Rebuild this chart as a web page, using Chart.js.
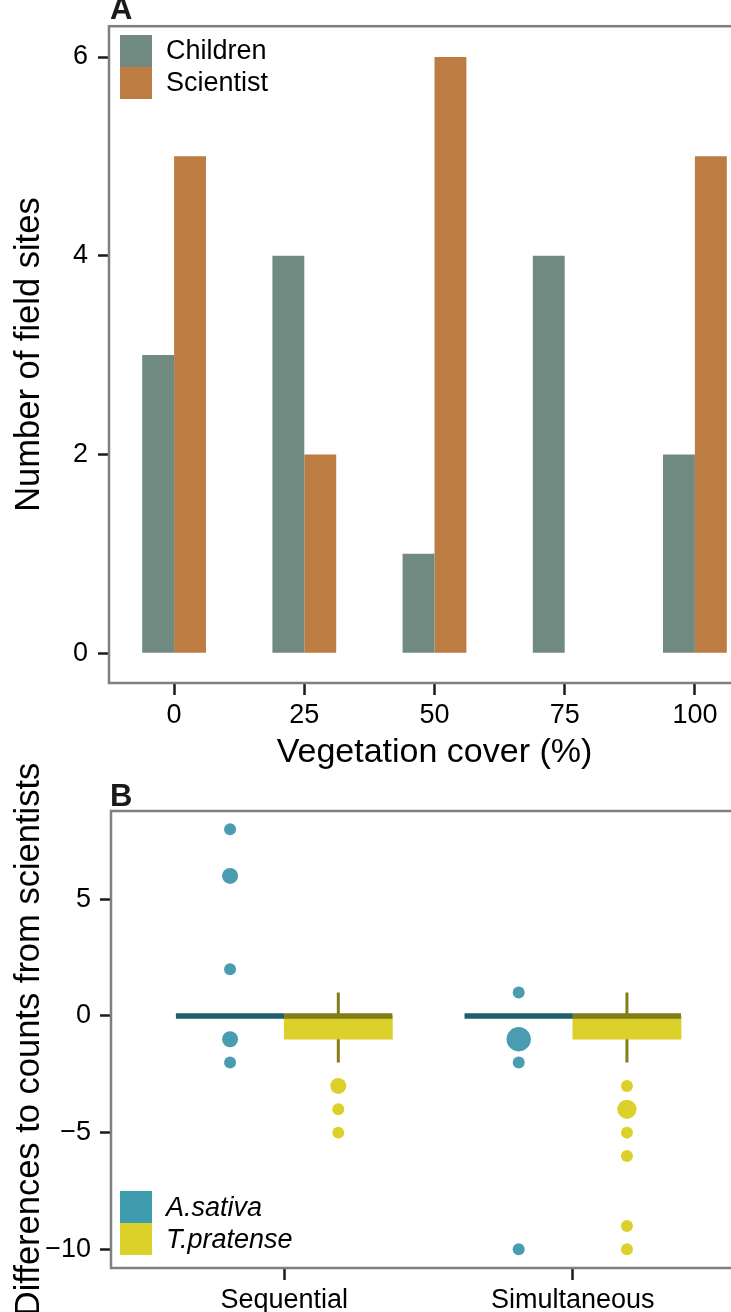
<!DOCTYPE html>
<html>
<head>
<meta charset="utf-8">
<script src="https://cdn.jsdelivr.net/npm/chart.js@4"></script>
<style>
  html, body { margin: 0; padding: 0; background: #fff; overflow: hidden; }
  body { width: 731px; height: 1312px; position: relative; }
  #panelA { position: absolute; left: 0; top: 0; }
  #panelB { position: absolute; left: 0; top: 740px; }
</style>
</head>
<body>
<canvas id="panelA" width="760" height="790"></canvas>
<canvas id="panelB" width="746" height="572"></canvas>
<script>
// ===== Panel A data =====
const coverLevels = ['0', '25', '50', '75', '100'];
const childrenSites = [3, 4, 1, 4, 2];
const scientistSites = [5, 2, 6, 0, 5];
const siteTicks = [0, 2, 4, 6];

// ===== Panel B data =====
const methods = ['Sequential', 'Simultaneous'];
const species = ['A.sativa', 'T.pratense'];
// box stats per method: lower whisker, lower hinge, median, upper hinge, upper whisker
const sativaBox = [[0, 0, 0, 0, 0], [0, 0, 0, 0, 0]];
const pratenseBox = [[-2, -1, 0, 0, 1], [-2, -1, 0, 0, 1]];
// outliers per method and how many sites share each value
const sativaOutliers = [[8, 6, 2, -1, -2], [1, -1, -2, -10]];
const sativaOutlierN = [[1, 2, 1, 2, 1], [1, 5, 1, 1]];
const pratenseOutliers = [[-3, -4, -5], [-3, -4, -5, -6, -9, -10]];
const pratenseOutlierN = [[2, 1, 1], [1, 3, 1, 1, 1, 1]];
const diffTicks = [-10, -5, 0, 5];

// ===== Styles =====
const FONT = "'Liberation Sans', Arial, Helvetica, sans-serif";
Chart.defaults.font.family = FONT;
Chart.defaults.color = '#000';
const frameColor = '#7f7f7f';
const tickColor = '#1a1a1a';
const colChildren = '#708a82';
const colScientist = '#bd7c41';
const sativaFill = '#4a9db0', sativaLine = '#1f5f6b', sativaKey = '#3e9aad';
const pratenseFill = '#dcd12b', pratenseLine = '#837c17';
const DODGE = 0.1875; // half of the dodge width 0.75 / 2 groups

const minus = (v) => v < 0 ? '\u2212' + Math.abs(v) : String(v);

// frame, panel letter and key squares
const panelDecor = {
    id: 'panelDecor',
    afterDraw(chart, args, opts) {
        const { ctx, chartArea: a } = chart;
        ctx.save();
        ctx.strokeStyle = frameColor;
        ctx.lineWidth = 2.5;
        ctx.strokeRect(a.left, a.top, a.right - a.left, a.bottom - a.top);

        ctx.fillStyle = '#1a1a1a';
        ctx.font = `bold 31px ${FONT}`;
        ctx.textBaseline = 'alphabetic';
        ctx.fillText(opts.letter, opts.letterX, opts.letterY);

        opts.keys.forEach((k, i) => {
            const y = opts.keyY + i * 32;
            ctx.fillStyle = k.color;
            ctx.fillRect(opts.keyX, y, 32, 32);
            ctx.fillStyle = '#000';
            ctx.font = `${k.italic ? 'italic ' : ''}27px ${FONT}`;
            ctx.textBaseline = 'middle';
            ctx.fillText(k.label, opts.keyX + 46, y + 17);
        });
        ctx.restore();
    }
};

const tickGrid = { drawOnChartArea: false, drawTicks: true, tickLength: 12, tickColor: tickColor, tickWidth: 2.5, offset: false };

// ===== Panel A =====
const chartA = new Chart(document.getElementById('panelA'), {
    type: 'bar',
    data: {
        labels: coverLevels,
        datasets: [
            { label: 'Children', data: childrenSites, backgroundColor: colChildren },
            { label: 'Scientist', data: scientistSites, backgroundColor: colScientist }
        ]
    },
    options: {
        responsive: false,
        animation: false,
        events: [],
        layout: { autoPadding: false, padding: { top: 25, left: 0, right: 0, bottom: 0 } },
        datasets: { bar: { categoryPercentage: 0.49, barPercentage: 1, borderWidth: 0 } },
        plugins: {
            legend: { display: false },
            tooltip: { enabled: false },
            panelDecor: {
                letter: 'A', letterX: 110, letterY: 19,
                keyX: 120, keyY: 35,
                keys: [
                    { label: 'Children', color: colChildren },
                    { label: 'Scientist', color: colScientist }
                ]
            }
        },
        scales: {
            x: {
                offset: true,
                grid: { ...tickGrid, tickLength: 12 },
                border: { display: false },
                ticks: { font: { size: 27 }, padding: 4, color: '#000' },
                title: { display: true, text: 'Vegetation cover (%)', font: { size: 34 }, padding: { top: 0, bottom: 17 }, color: '#000' },
                afterFit: (s) => { s.height = 107; }
            },
            y: {
                min: -0.3,
                max: 6.31,
                afterBuildTicks: (s) => { s.ticks = siteTicks.map(v => ({ value: v })); },
                grid: { ...tickGrid, tickLength: 11 },
                border: { display: false },
                ticks: { font: { size: 27 }, padding: 10, color: '#000' },
                title: { display: true, text: 'Number of field sites', font: { size: 34.5 }, padding: { top: 9, bottom: 0 }, color: '#000' },
                afterFit: (s) => { s.width = 109; }
            }
        }
    },
    plugins: [panelDecor]
});

// ===== Panel B =====
const boxBars = (stats, shift) => stats.map((s, i) => ({ x: i + 1 + shift, y: [s[1], s[3]] }));
const medianSegs = (stats, shift) => stats.flatMap((s, i) => [
    { x: i + 1 + shift - DODGE, y: s[2] },
    { x: i + 1 + shift + DODGE, y: s[2] },
    { x: i + 1 + shift + DODGE, y: null }
]);
const whiskerSegs = (stats, shift) => stats.flatMap((s, i) => [
    { x: i + 1 + shift, y: s[4] }, { x: i + 1 + shift, y: s[3] }, { x: i + 1 + shift, y: null },
    { x: i + 1 + shift, y: s[1] }, { x: i + 1 + shift, y: s[0] }, { x: i + 1 + shift, y: null }
]);
const outlierPts = (vals, counts, shift) => vals.flatMap((list, i) =>
    list.map((v, j) => ({ x: i + 1 + shift, y: v, n: counts[i][j] })));
const countRadius = (ctx) => ctx.raw ? Math.sqrt(8 + 28 * ctx.raw.n) : 6;

const chartB = new Chart(document.getElementById('panelB'), {
    type: 'scatter',
    data: {
        datasets: [
            { type: 'scatter', label: species[0], data: outlierPts(sativaOutliers, sativaOutlierN, -DODGE), backgroundColor: sativaFill, pointRadius: countRadius, pointBorderWidth: 0, order: 1 },
            { type: 'scatter', label: species[1], data: outlierPts(pratenseOutliers, pratenseOutlierN, DODGE), backgroundColor: pratenseFill, pointRadius: countRadius, pointBorderWidth: 0, order: 1 },
            { type: 'line', data: medianSegs(sativaBox, -DODGE), borderColor: sativaLine, borderWidth: 5.5, pointRadius: 0, spanGaps: false, order: 3 },
            { type: 'line', data: medianSegs(pratenseBox, DODGE), borderColor: pratenseLine, borderWidth: 5.5, pointRadius: 0, spanGaps: false, order: 3 },
            { type: 'line', data: whiskerSegs(pratenseBox, DODGE), borderColor: pratenseLine, borderWidth: 3, pointRadius: 0, spanGaps: false, order: 4 },
            { type: 'line', data: whiskerSegs(sativaBox, -DODGE), borderColor: sativaLine, borderWidth: 3, pointRadius: 0, spanGaps: false, order: 4 },
            { type: 'bar', data: boxBars(sativaBox, -DODGE), backgroundColor: sativaFill, grouped: false, categoryPercentage: 1, barPercentage: 1, borderWidth: 0, order: 5 },
            { type: 'bar', data: boxBars(pratenseBox, DODGE), backgroundColor: pratenseFill, grouped: false, categoryPercentage: 1, barPercentage: 1, borderWidth: 0, order: 5 }
        ]
    },
    options: {
        responsive: false,
        animation: false,
        events: [],
        layout: { autoPadding: false, padding: { top: 71, left: 0, right: 0, bottom: 0 } },
        plugins: {
            legend: { display: false },
            tooltip: { enabled: false },
            panelDecor: {
                letter: 'B', letterX: 110, letterY: 66,
                keyX: 120, keyY: 451,
                keys: [
                    { label: species[0], color: sativaKey, italic: true },
                    { label: species[1], color: pratenseFill, italic: true }
                ]
            }
        },
        scales: {
            x: {
                type: 'linear',
                min: 0.4,
                max: 2.6,
                offset: false,
                afterBuildTicks: (s) => { s.ticks = methods.map((m, i) => ({ value: i + 1 })); },
                grid: { ...tickGrid, tickLength: 12 },
                border: { display: false },
                ticks: { font: { size: 27 }, padding: 4, color: '#000', callback: (v, i) => methods[i] },
                afterFit: (s) => { s.height = 44; }
            },
            y: {
                min: -10.8,
                max: 8.78,
                afterBuildTicks: (s) => { s.ticks = diffTicks.map(v => ({ value: v })); },
                grid: { ...tickGrid, tickLength: 11 },
                border: { display: false },
                ticks: { font: { size: 27 }, padding: 9, color: '#000', callback: (v) => minus(v) },
                title: { display: true, text: 'Differences to counts from scientists', font: { size: 34.5 }, padding: { top: 9, bottom: 0 }, color: '#000' },
                afterFit: (s) => { s.width = 111; }
            }
        }
    },
    plugins: [panelDecor]
});
</script>
</body>
</html>
